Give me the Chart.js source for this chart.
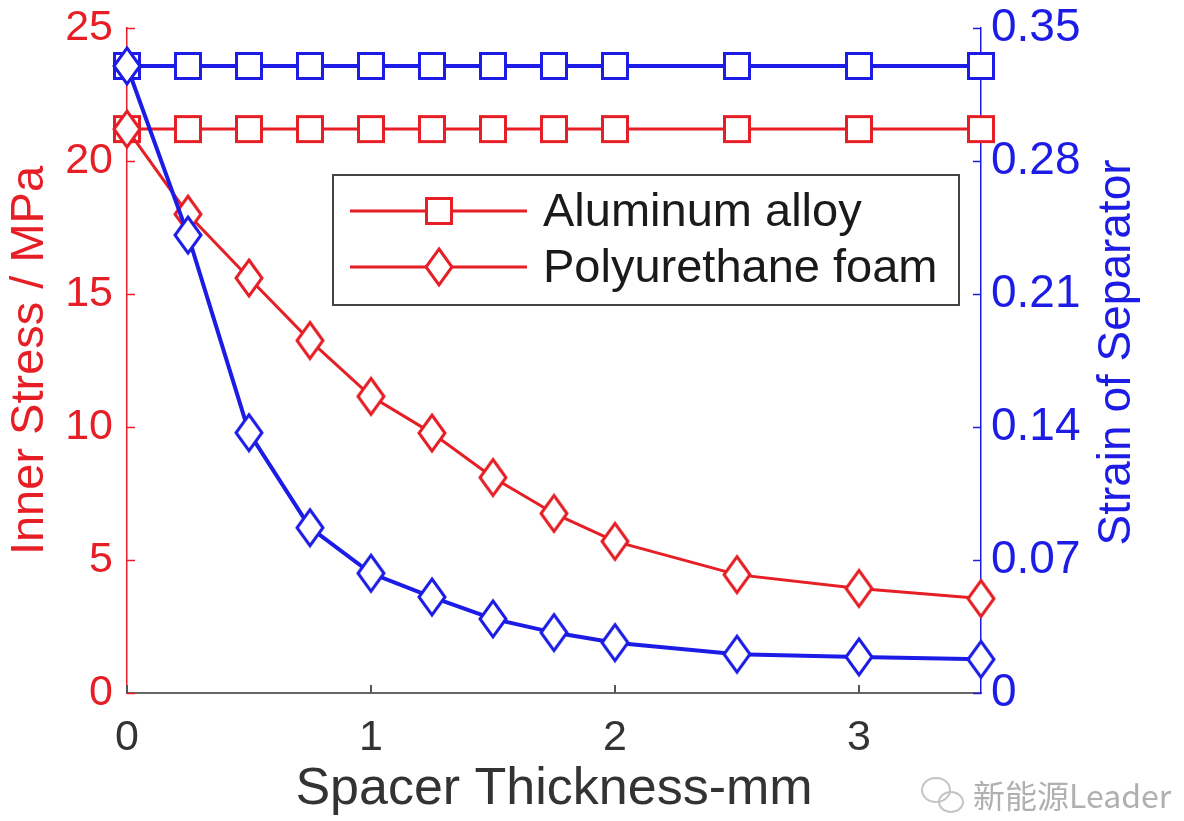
<!DOCTYPE html>
<html>
<head>
<meta charset="utf-8">
<script src="https://cdn.jsdelivr.net/npm/chart.js@4.4.1/dist/chart.umd.min.js"></script>
<style>
  html, body { margin: 0; padding: 0; background: #fff; }
  canvas { display: block; }
</style>
</head>
<body>
<canvas id="myChart" width="1184" height="821"></canvas>
<script>
// spacer thickness (mm) and the measured stress / strain at each step
var thickness = [0, 0.25, 0.5, 0.75, 1, 1.25, 1.5, 1.75, 2, 2.5, 3, 3.5];
var alloyStress = [21.2, 21.2, 21.2, 21.2, 21.2, 21.2, 21.2, 21.2, 21.2, 21.2, 21.2, 21.2];
var alloyStrain = [0.33, 0.33, 0.33, 0.33, 0.33, 0.33, 0.33, 0.33, 0.33, 0.33, 0.33, 0.33];
var foamStress = [21.2, 18.0, 15.6, 13.25, 11.15, 9.77, 8.1, 6.75, 5.7, 4.45, 3.93, 3.55];
var foamStrain = [0.33, 0.241, 0.137, 0.087, 0.063, 0.0505, 0.039, 0.0318, 0.0265, 0.0204, 0.019, 0.0177];

var thicknessTicks = [0, 1, 2, 3];
var stressTicks = [0, 5, 10, 15, 20, 25];
var strainTicks = [0, 0.07, 0.14, 0.21, 0.28, 0.35];
var legendLabels = ["Aluminum alloy", "Polyurethane foam"];

var RED = "#e61e25";
var BLUE = "#1c1ce6";
var FONT = "'Liberation Sans', Arial, sans-serif";

Chart.defaults.font.family = FONT;

function points(values) {
  return thickness.map(function (t, i) {
    return { x: t, y: values[i] };
  });
}

// hollow markers, white inside so the line stops at the edge
function marker(shape, color) {
  var w = shape === "square" ? 30 : 32;
  var h = shape === "square" ? 30 : 42;
  var c = document.createElement("canvas");
  c.width = w;
  c.height = h;
  var g = c.getContext("2d");
  g.lineWidth = 3;
  g.strokeStyle = color;
  g.fillStyle = "#fff";
  g.lineJoin = "miter";
  g.beginPath();
  if (shape === "square") {
    g.rect(2.5, 2.5, w - 5, h - 5);
  } else {
    g.moveTo(w / 2, 3);
    g.lineTo(w - 3, h / 2);
    g.lineTo(w / 2, h - 3);
    g.lineTo(3, h / 2);
    g.closePath();
  }
  g.fill();
  g.stroke();
  return c;
}

var squareRed = marker("square", RED);
var squareBlue = marker("square", BLUE);
var diamondRed = marker("diamond", RED);
var diamondBlue = marker("diamond", BLUE);

function fixedTicks(list) {
  return function (scale) {
    scale.ticks = list.map(function (v) { return { value: v }; });
  };
}

function fixedWidth(w) {
  return function (scale) {
    scale.width = w;
    scale.paddingTop = 0;
    scale.paddingBottom = 0;
  };
}

// MATLAB style tick marks pointing into the plot
var innerTicks = {
  id: "innerTicks",
  afterDraw: function (chart) {
    var c = chart.ctx, a = chart.chartArea, s = chart.scales, len = 8;
    c.save();
    c.lineWidth = 1.5;
    c.strokeStyle = RED;
    s.y.ticks.forEach(function (t) {
      var py = Math.round(s.y.getPixelForValue(t.value)) + 0.5;
      c.beginPath(); c.moveTo(a.left, py); c.lineTo(a.left + len, py); c.stroke();
    });
    c.strokeStyle = BLUE;
    s.y2.ticks.forEach(function (t) {
      var py = Math.round(s.y2.getPixelForValue(t.value)) + 0.5;
      c.beginPath(); c.moveTo(a.right, py); c.lineTo(a.right - len, py); c.stroke();
    });
    c.strokeStyle = "#555";
    c.lineWidth = 2;
    s.x.ticks.forEach(function (t) {
      var px = Math.round(s.x.getPixelForValue(t.value));
      c.beginPath(); c.moveTo(px, a.bottom); c.lineTo(px, a.bottom - len); c.stroke();
    });
    c.restore();
  }
};

// right axis title reads bottom to top, legend box and corner mark
var extras = {
  id: "extras",
  afterDraw: function (chart) {
    var c = chart.ctx, a = chart.chartArea;
    c.save();

    c.translate(a.right + 136, (a.top + a.bottom) / 2 - 8);
    c.rotate(-Math.PI / 2);
    c.fillStyle = BLUE;
    c.font = "46px " + FONT;
    c.textAlign = "center";
    c.textBaseline = "middle";
    c.fillText("Strain of Separator", 0, 0);
    c.setTransform(1, 0, 0, 1, 0, 0);

    // legend
    var bx = 333, by = 175, bw = 626, bh = 130;
    c.fillStyle = "#fff";
    c.fillRect(bx, by, bw, bh);
    c.lineWidth = 2;
    c.strokeStyle = "#444";
    c.strokeRect(bx, by, bw, bh);
    var rows = [211, 267];
    var marks = [squareRed, diamondRed];
    c.font = "47px " + FONT;
    c.textAlign = "left";
    c.textBaseline = "middle";
    rows.forEach(function (ry, i) {
      c.strokeStyle = RED;
      c.lineWidth = 3;
      c.beginPath(); c.moveTo(350, ry); c.lineTo(527, ry); c.stroke();
      c.drawImage(marks[i], 439 - marks[i].width / 2, ry - marks[i].height / 2);
      c.fillStyle = "#1a1a1a";
      c.fillText(legendLabels[i], 543, ry + 2);
    });

    // watermark
    c.strokeStyle = "#c4c4c4";
    c.lineWidth = 2;
    c.beginPath(); c.ellipse(936, 790, 14, 12, 0, 0, Math.PI * 2); c.stroke();
    c.beginPath(); c.ellipse(951, 802, 12, 10, 0, 0, Math.PI * 2); c.stroke();
    c.fillStyle = "#b0b0b0";
    c.font = "32px 'Noto Sans CJK SC', sans-serif";
    c.fillText("新能源Leader", 973, 796);
    c.restore();
  }
};

var ctx = document.getElementById("myChart");
var myChart = new Chart(ctx, {
  type: "line",
  data: {
    datasets: [
      {
        label: legendLabels[1],
        data: points(foamStrain),
        yAxisID: "y2",
        borderColor: BLUE,
        borderWidth: 4,
        pointStyle: diamondBlue,
        pointRadius: 14,
        lineTension: 0,
        fill: false,
        clip: false,
      },
      {
        label: legendLabels[0],
        data: points(alloyStrain),
        yAxisID: "y2",
        borderColor: BLUE,
        borderWidth: 4,
        pointStyle: squareBlue,
        pointRadius: 14,
        lineTension: 0,
        fill: false,
        clip: false,
      },
      {
        label: legendLabels[1],
        data: points(foamStress),
        yAxisID: "y",
        borderColor: RED,
        borderWidth: 3,
        pointStyle: diamondRed,
        pointRadius: 14,
        lineTension: 0,
        fill: false,
        clip: false,
      },
      {
        label: legendLabels[0],
        data: points(alloyStress),
        yAxisID: "y",
        borderColor: RED,
        borderWidth: 3,
        pointStyle: squareRed,
        pointRadius: 14,
        lineTension: 0,
        fill: false,
        clip: false,
      },
    ],
  },
  options: {
    responsive: false,
    animation: false,
    events: [],
    layout: { padding: { top: 28, left: 0, right: 0, bottom: 0 } },
    plugins: {
      legend: { display: false },
      tooltip: { enabled: false },
    },
    scales: {
      x: {
        type: "linear",
        min: 0,
        max: 3.5,
        afterBuildTicks: fixedTicks(thicknessTicks),
        afterFit: function (s) { s.height = 128; s.paddingLeft = 0; s.paddingRight = 0; },
        grid: { display: false, drawTicks: false },
        border: { color: "#666", width: 2 },
        ticks: { color: "#333", font: { size: 43 }, padding: 19, maxRotation: 0, autoSkip: false },
        title: {
          display: true,
          text: "Spacer Thickness-mm",
          color: "#333",
          font: { size: 52 },
          padding: { top: 0, bottom: 0 },
        },
      },
      y: {
        position: "left",
        min: 0,
        max: 25,
        afterBuildTicks: fixedTicks(stressTicks),
        afterFit: fixedWidth(127),
        grid: { display: false, drawTicks: false },
        border: { color: RED, width: 1.5 },
        ticks: { color: RED, font: { size: 43 }, padding: 14 },
        title: {
          display: true,
          text: "Inner Stress / MPa",
          color: RED,
          font: { size: 47 },
          padding: { top: 2, bottom: 0 },
        },
      },
      y2: {
        position: "right",
        min: 0,
        max: 0.35,
        afterBuildTicks: fixedTicks(strainTicks),
        afterFit: fixedWidth(203),
        grid: { display: false, drawTicks: false },
        border: { color: BLUE, width: 1.5 },
        ticks: {
          color: BLUE,
          font: { size: 46 },
          padding: 10,
          callback: function (v) { return v === 0 ? "0" : v.toFixed(2); },
        },
      },
    },
  },
  plugins: [innerTicks, extras],
});
</script>
</body>
</html>
